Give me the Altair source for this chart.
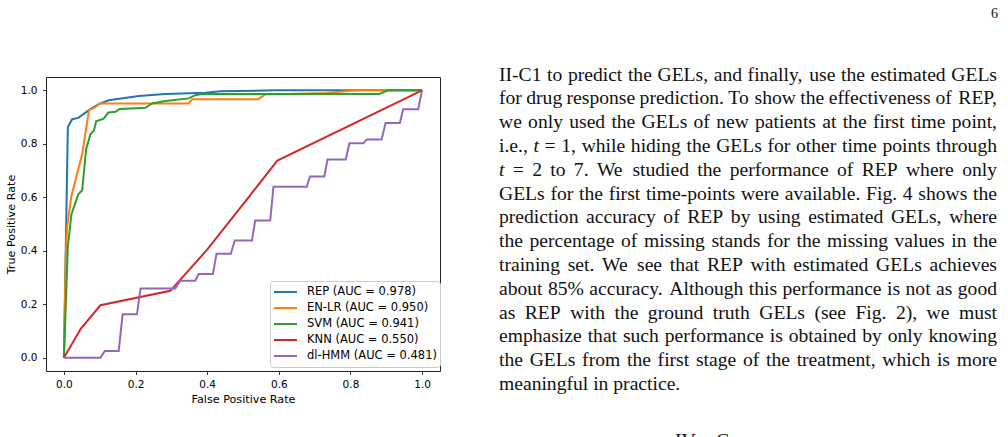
import altair as alt
import pandas as pd

# ---------------- data ----------------
names = ["REP", "EN-LR", "SVM", "KNN", "dl-HMM"]
aucs = ["0.978", "0.950", "0.941", "0.550", "0.481"]
colors = ["#1f77b4", "#ff7f0e", "#2ca02c", "#d62728", "#9467bd"]

rep_fpr = [0, 0.011, 0.023, 0.040, 0.070, 0.097, 0.125, 0.209, 0.283, 0.395, 0.437, 0.594, 1.0]
rep_tpr = [0, 0.863, 0.892, 0.897, 0.926, 0.948, 0.963, 0.979, 0.986, 0.991, 0.997, 1.0, 1.0]

enlr_fpr = [0, 0.005, 0.009, 0.021, 0.051, 0.070, 0.086, 0.100, 0.348, 0.358, 0.543, 0.562, 0.734, 0.817, 1.0]
enlr_tpr = [0, 0.38, 0.49, 0.605, 0.762, 0.926, 0.935, 0.951, 0.951, 0.967, 0.967, 0.985, 0.99, 1.0, 1.0]

svm_fpr = [0, 0.011, 0.021, 0.040, 0.051, 0.062, 0.074, 0.084, 0.090, 0.111, 0.124, 0.144, 0.155,
           0.186, 0.228, 0.246, 0.283, 0.302, 0.348, 0.367, 0.385, 0.880, 0.905, 1.0]
svm_tpr = [0, 0.416, 0.536, 0.611, 0.626, 0.780, 0.836, 0.850, 0.884, 0.894, 0.917, 0.920, 0.930,
           0.932, 0.935, 0.951, 0.960, 0.963, 0.970, 0.982, 0.986, 0.986, 1.0, 1.0]

knn_fpr = [0, 0.047, 0.102, 0.297, 0.400, 0.596, 1.0]
knn_tpr = [0, 0.108, 0.196, 0.250, 0.404, 0.737, 1.0]

hmm_fpr = [0, 0.102, 0.114, 0.153, 0.164, 0.204, 0.214, 0.311, 0.325, 0.367, 0.376, 0.416, 0.426,
           0.466, 0.477, 0.525, 0.534, 0.576, 0.585, 0.678, 0.687, 0.727, 0.736, 0.787, 0.797,
           0.836, 0.845, 0.887, 0.898, 0.938, 0.947, 0.989, 1.0]
hmm_tpr = [0, 0, 0.025, 0.025, 0.162, 0.162, 0.259, 0.259, 0.288, 0.288, 0.313, 0.313, 0.389,
           0.389, 0.438, 0.438, 0.513, 0.513, 0.639, 0.639, 0.678, 0.678, 0.741, 0.741, 0.802,
           0.802, 0.816, 0.816, 0.878, 0.878, 0.929, 0.929, 1.0]

tick_values = [0.0, 0.2, 0.4, 0.6, 0.8, 1.0]

paragraph_lines = [
    "II-C1 to predict the GELs, and finally, use the estimated GELs",
    "for drug response prediction. To show the effectiveness of REP,",
    "we only used the GELs of new patients at the first time point,",
    "i.e., *t* = 1, while hiding the GELs for other time points through",
    "*t* = 2 to 7. We studied the performance of REP where only",
    "GELs for the first time-points were available. Fig. 4 shows the",
    "prediction accuracy of REP by using estimated GELs, where",
    "the percentage of missing stands for the missing values in the",
    "training set. We see that REP with estimated GELs achieves",
    "about 85% accuracy. Although this performance is not as good",
    "as REP with the ground truth GELs (see Fig. 2), we must",
    "emphasize that such performance is obtained by only knowing",
    "the GELs from the first stage of the treatment, which is more",
    "meaningful in practice.",
]
page_number = "6"
heading_parts = ["IV.", "C"]

# ---------------- curves table ----------------
series = [(rep_fpr, rep_tpr), (enlr_fpr, enlr_tpr), (svm_fpr, svm_tpr),
          (knn_fpr, knn_tpr), (hmm_fpr, hmm_tpr)]
labels = [f"{n} (AUC = {a})" for n, a in zip(names, aucs)]
rows = []
for lab, (fx, ty) in zip(labels, series):
    for i, (a, b) in enumerate(zip(fx, ty)):
        rows.append({"model": lab, "fpr": a, "tpr": b, "i": i})
curves = pd.DataFrame(rows)

# ---------------- text layout (page text beside the figure) ----------------
OX, OY = 46, 77           # plot-area origin on the page
FS = 19.6
LEFT, RIGHT = 499, 997
BASE0, LH = 80.5, 23.8
TW = {" ": 250, "!": 333, "%": 833, "(": 333, ")": 333, ",": 250, "-": 333, ".": 250,
      ":": 278, ";": 278, "=": 564, "?": 444,
      "A": 722, "B": 667, "C": 667, "D": 722, "E": 611, "F": 556, "G": 722, "H": 722,
      "I": 333, "J": 389, "K": 722, "L": 611, "M": 889, "N": 722, "O": 722, "P": 556,
      "Q": 722, "R": 667, "S": 556, "T": 611, "U": 722, "V": 722, "W": 944, "X": 722,
      "Y": 722, "Z": 611,
      "a": 444, "b": 500, "c": 444, "d": 500, "e": 444, "f": 333, "g": 500, "h": 500,
      "i": 278, "j": 278, "k": 500, "l": 278, "m": 778, "n": 500, "o": 500, "p": 500,
      "q": 500, "r": 333, "s": 389, "t": 278, "u": 500, "v": 500, "w": 722, "x": 500,
      "y": 500, "z": 444}


def tw(s, fs):
    return sum(TW.get(c, 500) for c in s) * fs / 1000.0


words = []
for li, line in enumerate(paragraph_lines):
    toks = line.split(" ")
    plain = [t.strip("*") for t in toks]
    ital = [t.startswith("*") for t in toks]
    widths = [tw(p, FS) for p in plain]
    last = li == len(paragraph_lines) - 1
    if last:
        gap = 250 * FS / 1000.0
    else:
        gap = (RIGHT - LEFT - sum(widths)) / (len(toks) - 1)
    x = LEFT
    y = BASE0 + li * LH
    for k, (p, it, w) in enumerate(zip(plain, ital, widths)):
        if (not last) and k == len(toks) - 1:
            words.append({"word": p, "wx": RIGHT - OX, "wy": y - OY, "kind": "R", "fs": FS})
        else:
            words.append({"word": p, "wx": x - OX, "wy": y - OY,
                          "kind": "I" if it else "L", "fs": FS})
        x += w + gap

words.append({"word": page_number, "wx": 998 - OX, "wy": 18 - OY, "kind": "R", "fs": 14})
words.append({"word": heading_parts[0], "wx": 675 - OX, "wy": 447 - OY, "kind": "L", "fs": FS})
words.append({"word": heading_parts[1], "wx": 716 - OX, "wy": 447 - OY, "kind": "L", "fs": FS})
text_df = pd.DataFrame(words)

# ---------------- chart ----------------
AX_FONT = "DejaVu Sans"
xscale = alt.Scale(domain=[-0.05, 1.05], nice=False, zero=False)
yscale = alt.Scale(domain=[-0.05, 1.05], nice=False, zero=False)

lines = alt.Chart(curves).mark_line(strokeWidth=2).encode(
    x=alt.X("fpr:Q", scale=xscale, title="False Positive Rate",
            axis=alt.Axis(values=tick_values, format=".1f", labelPadding=4.5, titlePadding=3.5)),
    y=alt.Y("tpr:Q", scale=yscale, title="True Positive Rate",
            axis=alt.Axis(values=tick_values, format=".1f", labelPadding=5.5, titlePadding=4)),
    color=alt.Color("model:N", scale=alt.Scale(domain=labels, range=colors),
                    legend=alt.Legend(title=None, orient="none", legendX=224, legendY=204,
                                      direction="vertical", symbolType="stroke",
                                      symbolSize=529, symbolStrokeWidth=2,
                                      labelFont=AX_FONT, labelFontSize=11.5,
                                      labelColor="black", fillColor="white",
                                      strokeColor="#cccccc", cornerRadius=3, padding=3,
                                      rowPadding=0, clipHeight=16, labelOffset=9)),
    order=alt.Order("i:Q"),
)


def text_layer(kind, align, style):
    return alt.Chart(text_df).transform_filter(alt.datum.kind == kind).mark_text(
        align=align, baseline="alphabetic", font="Liberation Serif", fontStyle=style,
        color="#111111"
    ).encode(
        x=alt.X("wx:Q", scale=None, axis=None),
        y=alt.Y("wy:Q", scale=None, axis=None),
        size=alt.Size("fs:Q", scale=None, legend=None),
        text="word:N",
    )


chart = alt.layer(
    lines,
    text_layer("L", "left", "normal"),
    text_layer("R", "right", "normal"),
    text_layer("I", "left", "italic"),
).properties(
    width=394, height=294,
    padding={"left": 46, "top": 77, "right": 568, "bottom": 66},
    autosize=alt.AutoSizeParams(type="none"),
    background="white",
).configure_view(
    stroke="#222222", strokeWidth=1
).configure_axis(
    grid=False, domain=False, ticks=True, tickSize=3.5, tickWidth=0.9, tickColor="#222222",
    labelFont=AX_FONT, labelFontSize=10.5, labelColor="black",
    titleFont=AX_FONT, titleFontSize=11.2, titleFontWeight="normal", titleColor="black",
)

chart.save("out.html", embed_options={"renderer": "svg", "actions": False})
